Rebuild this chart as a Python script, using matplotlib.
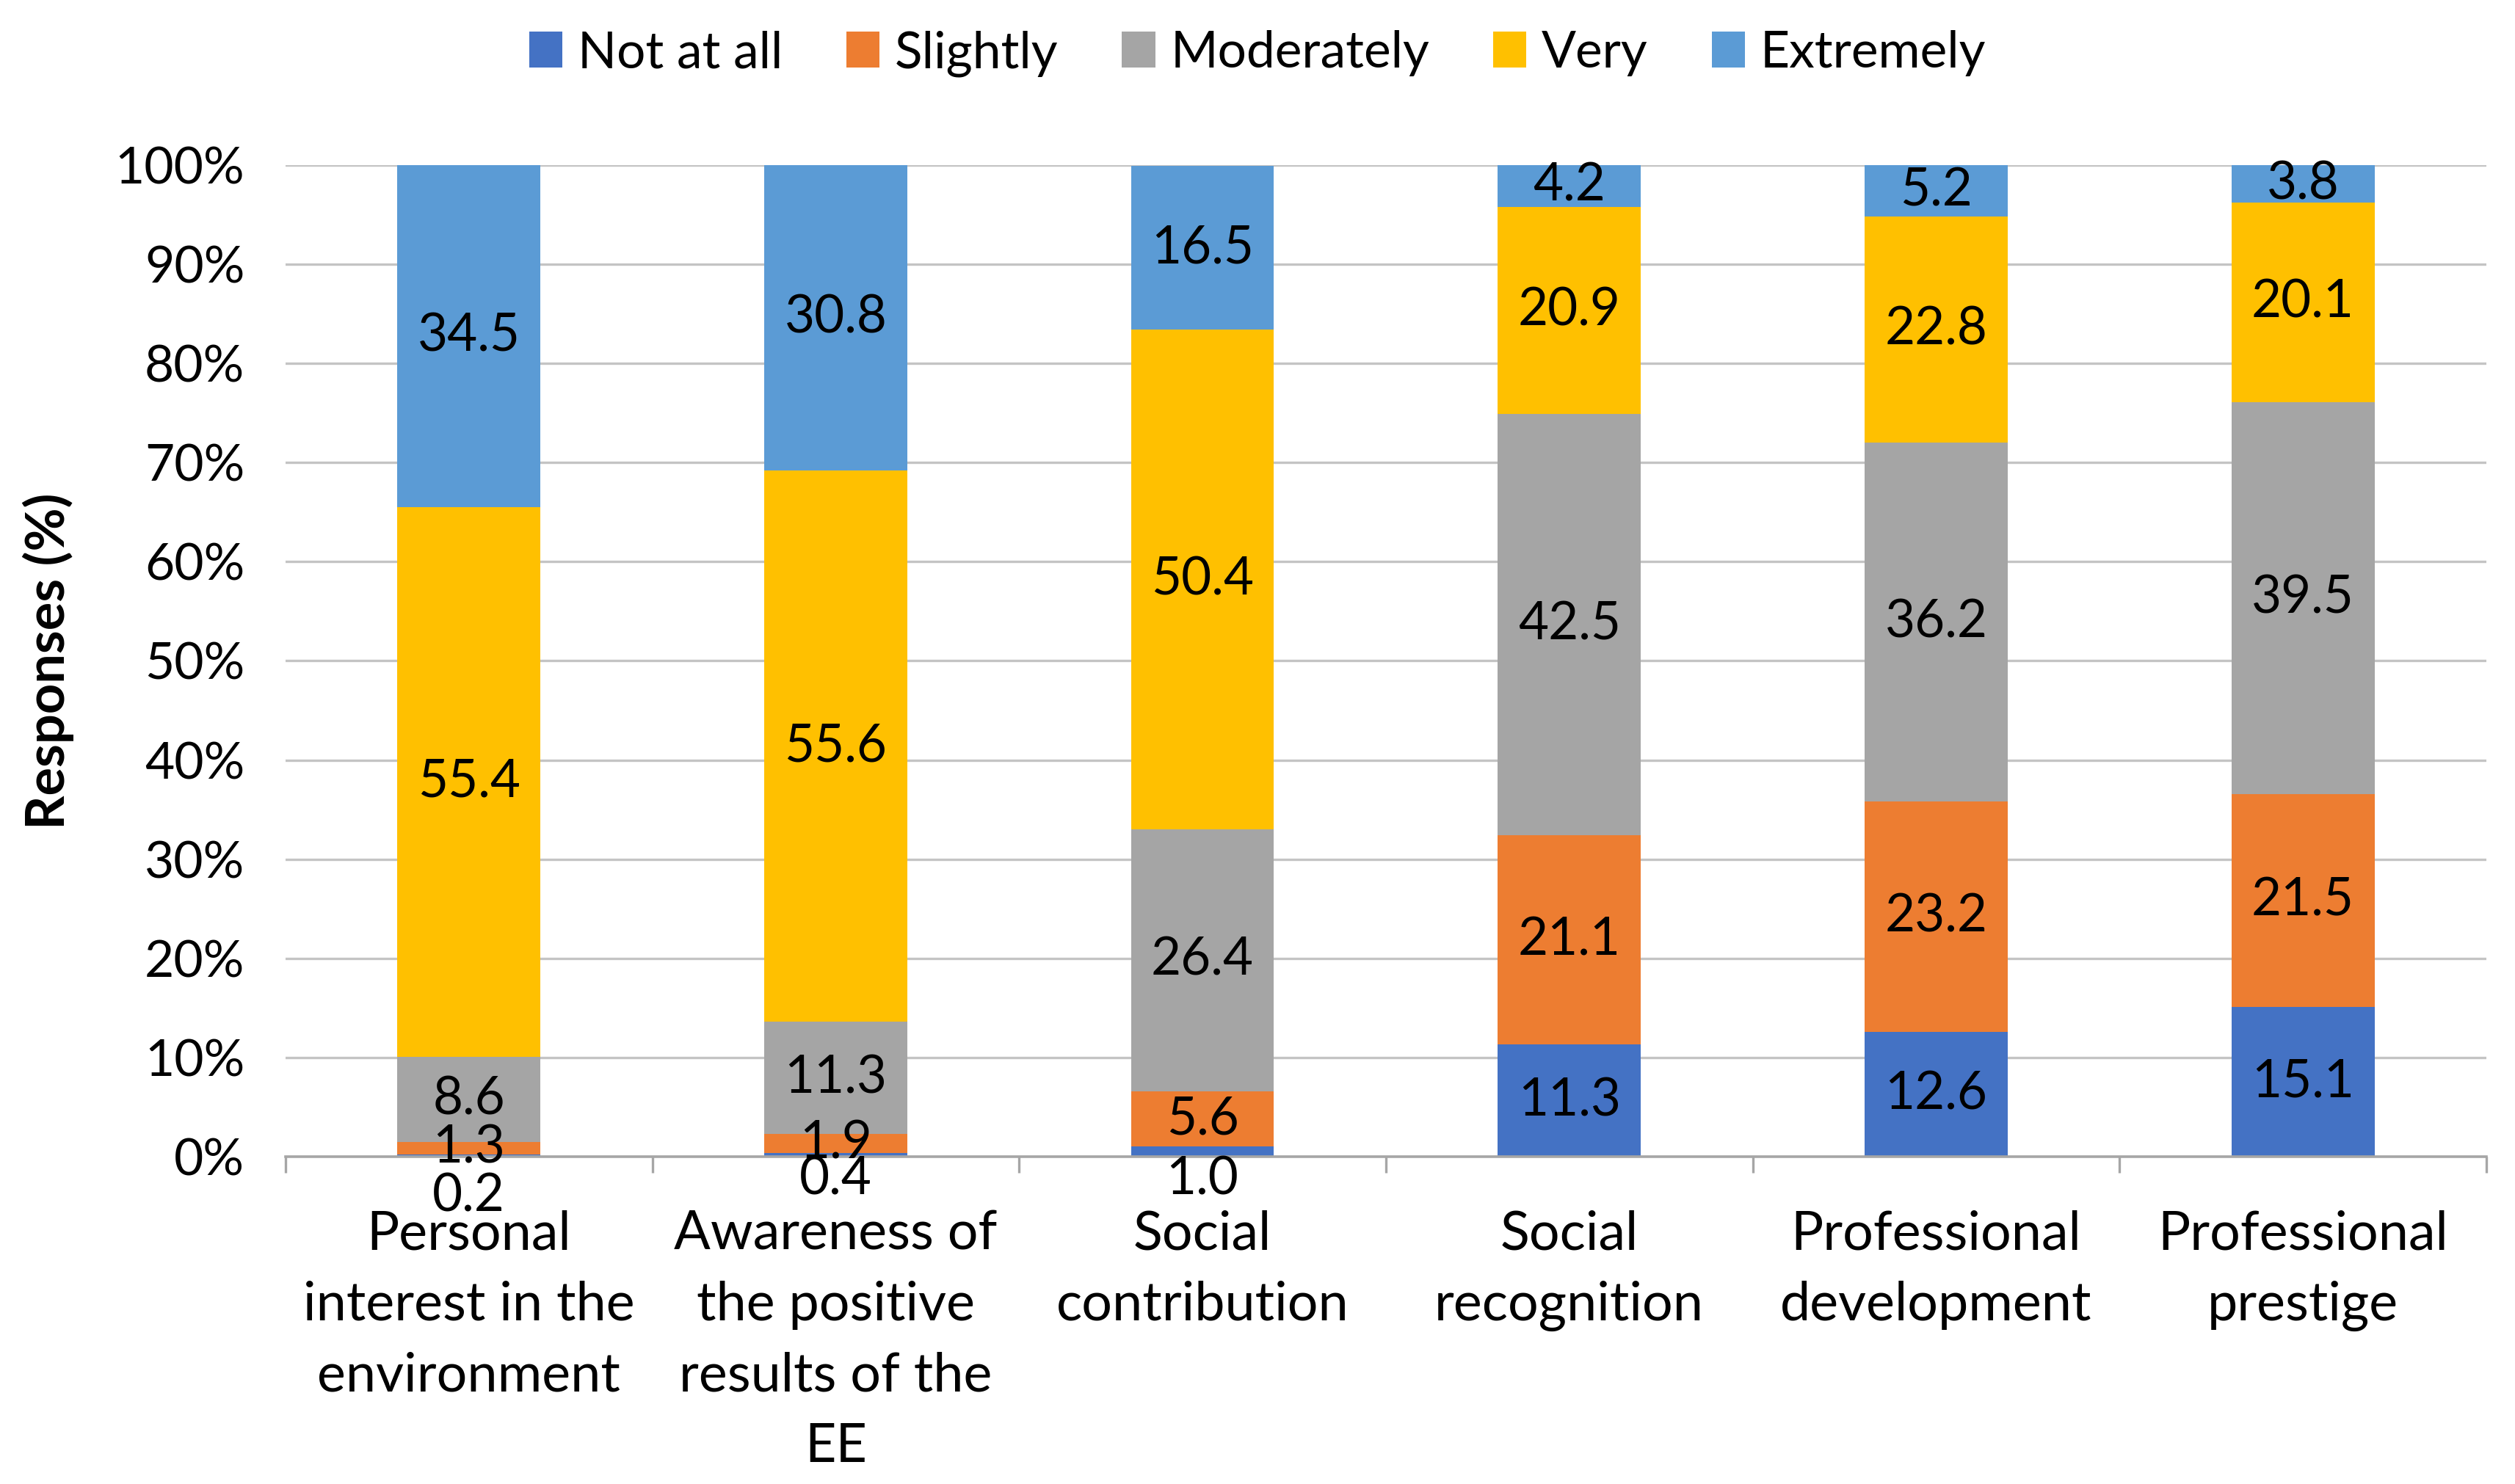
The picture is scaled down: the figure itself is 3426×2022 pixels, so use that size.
import matplotlib
matplotlib.use("Agg")
import matplotlib.pyplot as plt
import numpy as np

plt.rcParams['font.family'] = ['Lato', 'DejaVu Sans']

categories = ["Personal\ninterest in the\nenvironment",
              "Awareness of\nthe positive\nresults of the\nEE",
              "Social\ncontribution",
              "Social\nrecognition",
              "Professional\ndevelopment",
              "Professional\nprestige"]
series_names = ["Not at all", "Slightly", "Moderately", "Very", "Extremely"]
not_at_all = [0.2, 0.4, 1.0, 11.3, 12.6, 15.1]
slightly = [1.3, 1.9, 5.6, 21.1, 23.2, 21.5]
moderately = [8.6, 11.3, 26.4, 42.5, 36.2, 39.5]
very = [55.4, 55.6, 50.4, 20.9, 22.8, 20.1]
extremely = [34.5, 30.8, 16.5, 4.2, 5.2, 3.8]
colors = ["#4472C4", "#ED7D31", "#A5A5A5", "#FFC000", "#5B9BD5"]

# label offsets for tiny "Not at all" segments (placed below the axis)
small_label_y = {0: -4.0, 1: -2.3, 2: -2.3}

fig = plt.figure(figsize=(17.13, 10.11), dpi=200)
ax = fig.add_axes([0.1135, 0.2206, 0.8751, 0.6681])

x = np.arange(len(categories))
data = [not_at_all, slightly, moderately, very, extremely]
bottom = np.zeros(len(categories))
fs_data = 25.5
fs_tick = 25
fs_cat = 26.5
for si, (vals, c, name) in enumerate(zip(data, colors, series_names)):
    vals = np.array(vals)
    ax.bar(x, vals, width=0.39, bottom=bottom, color=c, label=name, zorder=3)
    for i, v in enumerate(vals):
        yc = bottom[i] + v / 2
        if si == 0 and i in small_label_y:
            yc = small_label_y[i]
        ax.text(x[i], yc, f"{v:.1f}", ha='center', va='center', fontsize=fs_data,
                color='black', zorder=5, clip_on=False)
    bottom += vals

ax.set_xlim(-0.5, len(categories) - 0.5)
ax.set_ylim(0, 100)
ax.set_yticks(np.arange(0, 101, 10))
ax.set_yticklabels([f"{t}%" for t in range(0, 101, 10)], fontsize=fs_tick)
ax.yaxis.grid(True, color='#C4C4C4', linewidth=1.2, zorder=0)
ax.set_axisbelow(True)
for s in ['top', 'right', 'left']:
    ax.spines[s].set_visible(False)
ax.spines['bottom'].set_color('#A6A6A6')
ax.spines['bottom'].set_linewidth(1.3)
ax.spines['bottom'].set_zorder(4)
ax.tick_params(axis='y', length=0, pad=20)

ax.set_xticks(x)
ax.set_xticklabels(categories, fontsize=fs_cat, linespacing=1.55)
ax.tick_params(axis='x', which='major', length=0, pad=26)
ax.set_xticks(np.arange(-0.5, len(categories), 1), minor=True)
ax.tick_params(axis='x', which='minor', length=8, width=1.2, color='#A6A6A6')

ax.set_ylabel("Responses (%)", fontsize=26, fontweight='bold', labelpad=20)

handles, labels = ax.get_legend_handles_labels()
fig.legend(handles, labels, loc='center', bbox_to_anchor=(0.5, 0.964), ncol=5,
           frameon=False, fontsize=25, handlelength=0.65, handleheight=0.7,
           handletextpad=0.3, columnspacing=1.25)

fig.savefig("out.png", dpi=200)
